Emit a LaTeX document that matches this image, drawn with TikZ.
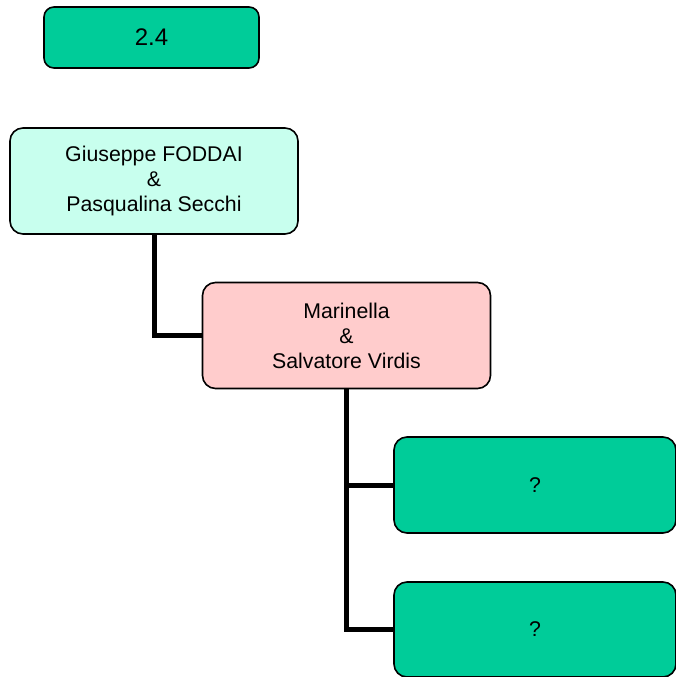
\documentclass[tikz,border=0pt]{standalone}
\usepackage{fontspec}
\setmainfont{Liberation Sans}
\definecolor{boxgreen}{RGB}{0,204,153}
\definecolor{boxmint}{RGB}{200,255,238}
\definecolor{boxpink}{RGB}{255,204,204}
\tikzset{
  famBox/.style={draw=black, line width=1.6pt, rounded corners=13pt, inner sep=0pt,
    align=center, font=\fontsize{21.3}{25}\selectfont},
  conn/.style={draw=black, line width=5pt, line join=miter}
}
\begin{document}
\begin{tikzpicture}[x=1pt,y=-1pt]
\useasboundingbox (0,0) rectangle (676,677);
\node[famBox, fill=boxgreen, rounded corners=10pt, minimum width=215pt, minimum height=61pt,
  font=\fontsize{24}{28}\selectfont] (num) at (151.5,37.5) {2.4};
\node[famBox, fill=boxmint, minimum width=288pt, minimum height=106pt] (g) at (154,181)
  {Giuseppe FODDAI\\\&\\Pasqualina Secchi};
\node[famBox, fill=boxpink, minimum width=288pt, minimum height=106pt] (m) at (346.5,335.5)
  {Marinella\\\&\\Salvatore Virdis};
\node[famBox, fill=boxgreen, minimum width=282pt, minimum height=96pt] (q1) at (535,485) {?};
\node[famBox, fill=boxgreen, minimum width=282pt, minimum height=95pt] (q2) at (535,629.5) {?};
\draw[conn] (g.south) |- (m.west);
\draw[conn] (m.south) |- (q2.west);
\draw[conn] (q1.west) -- (q1.west -| m.south);
\end{tikzpicture}
\end{document}
